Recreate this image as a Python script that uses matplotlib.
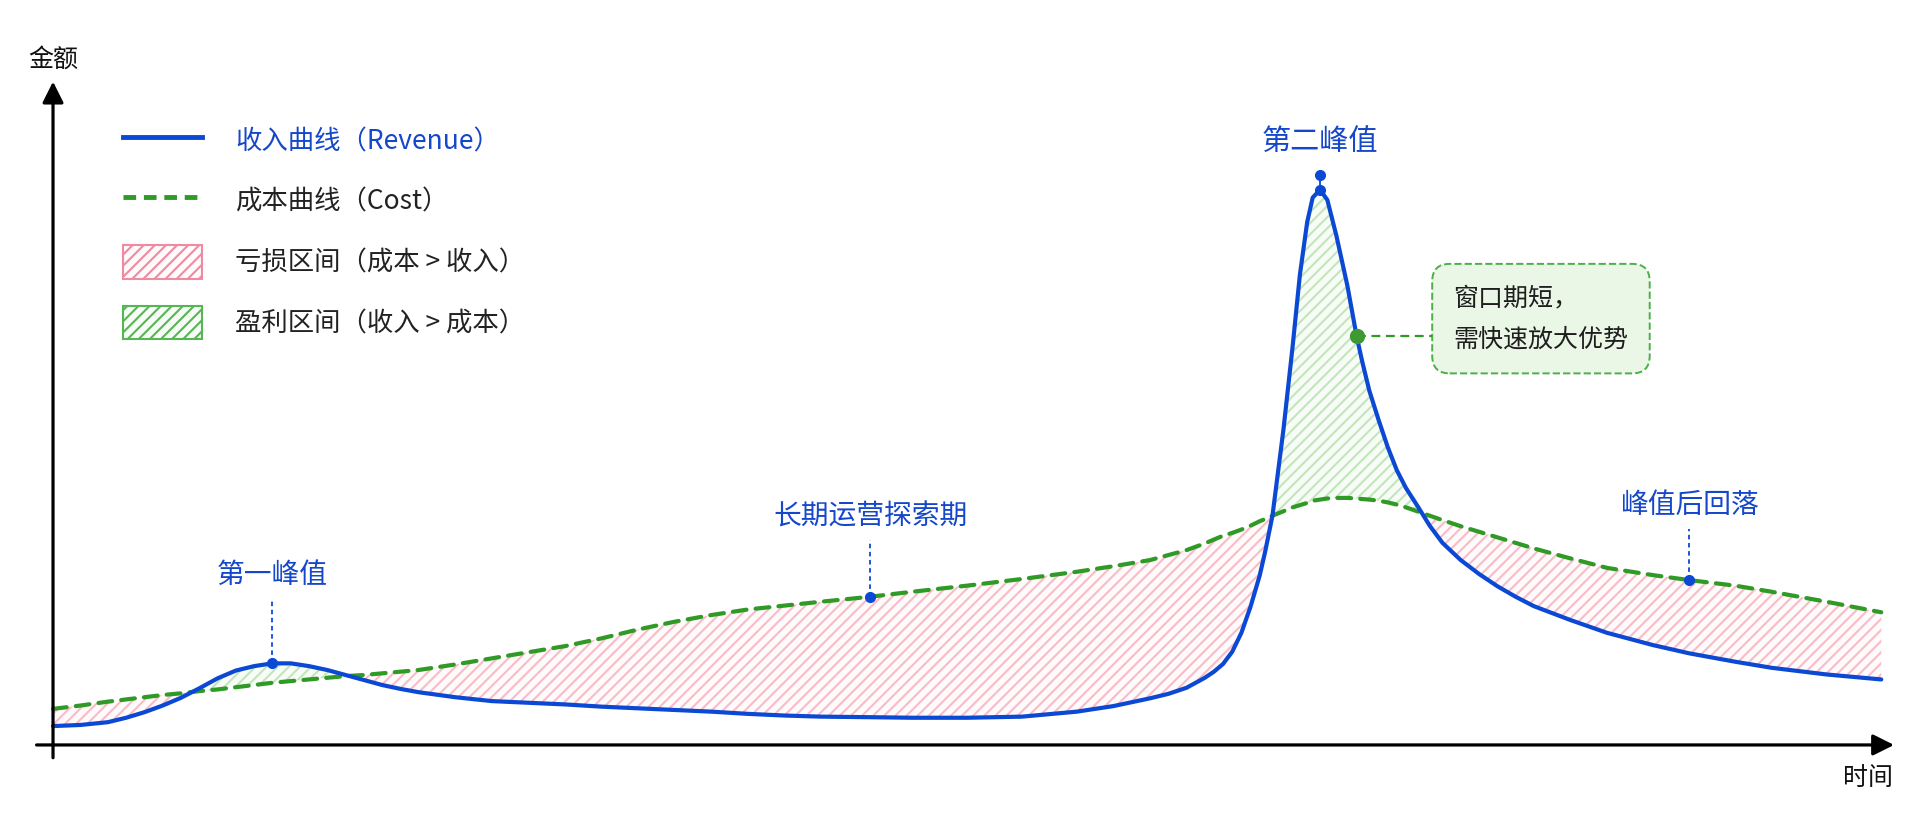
import matplotlib
matplotlib.use("Agg")
import matplotlib.pyplot as plt
from matplotlib.lines import Line2D
from matplotlib.patches import Patch
import numpy as np

plt.rcParams['font.family'] = ['Noto Sans CJK SC', 'DejaVu Sans']
plt.rcParams['hatch.linewidth'] = 1.5

# values (time 0-100, amount scaled so the second peak = 100)
time = [0, 1.5, 3, 4, 5, 6, 7, 8, 9, 10, 11, 12, 13, 14, 15, 16, 17, 18, 19, 20,
        22, 24, 26, 28, 30, 32, 34, 36, 38, 40, 42, 44.7, 47, 50, 53, 56, 58, 60,
        61, 62, 63, 63.5, 64, 64.5, 65, 65.5, 66, 66.3, 66.7, 67.3, 67.8, 68.2, 68.6,
        68.9, 69.3, 69.7, 70.2, 70.8, 71.3, 71.6, 72, 72.5, 73, 73.5, 74, 74.7, 75.3,
        76, 77, 78, 79, 80, 81, 83, 85, 87.5, 89.5, 92, 94, 97, 100]
revenue = [3.4, 3.6, 4.1, 4.9, 5.9, 7.1, 8.5, 10.2, 12.0, 13.4, 14.2, 14.7, 14.7, 14.2,
           13.5, 12.6, 11.7, 10.8, 10.1, 9.5,
           8.6, 7.9, 7.6, 7.3, 6.9, 6.6, 6.3, 6.0, 5.6, 5.3, 5.1, 5.0, 4.9, 4.9, 5.1,
           6.0, 7.0, 8.4,
           9.2, 10.3, 12.1, 13.2, 14.6, 16.8, 20.2, 24.9, 30.5, 34.8, 41.3, 56.8, 71.7,
           84.7, 94.2,
           98.6, 100, 98.2, 91.7, 82.7, 73.7, 69.2, 63.8, 58.6, 53.7, 49.5, 46.3, 42.7,
           39.5,
           36.4, 33.3, 30.8, 28.6, 26.7, 25.0, 22.5, 20.2, 18.0, 16.5, 15.0, 13.9, 12.7,
           11.8]
cost = [6.5, 7.1, 7.8, 8.2, 8.6, 9.0, 9.3, 9.7, 10.0, 10.4, 10.8, 11.2, 11.5, 11.8,
        12.1, 12.4, 12.6, 12.9, 13.2, 13.5,
        14.5, 15.6, 16.7, 17.8, 19.2, 20.8, 22.2, 23.4, 24.4, 25.1, 25.8, 26.7, 27.6,
        28.7, 29.9, 31.2, 32.2, 33.3,
        34.2, 35.1, 36.3, 37.0, 37.7, 38.2, 38.8, 39.5, 40.3, 40.7, 41.3, 42.1, 42.8,
        43.2, 43.6,
        44.0, 44.2, 44.4, 44.5, 44.5, 44.4, 44.3, 44.2, 44.0, 43.7, 43.3, 42.8, 42.0,
        41.3,
        40.5, 39.4, 38.4, 37.4, 36.4, 35.4, 33.6, 31.9, 30.6, 29.7, 28.7, 27.6, 25.8,
        23.9]

legend_labels = ['收入曲线（Revenue）', '成本曲线（Cost）',
                 '亏损区间（成本 > 收入）', '盈利区间（收入 > 成本）']

BLUE = '#0b48d4'
LABEL_BLUE = '#1447c9'
GREEN = '#2f9a26'
PINK_HATCH = '#f8bcc7'
GREEN_HATCH = '#c2e6bb'

t = np.array(time)
rev = np.array(revenue)
cst = np.array(cost)

fig = plt.figure(figsize=(19.16, 8.21), dpi=100)
ax = fig.add_axes([0, 0, 1, 1])
ax.set_xlim(-2.9, 101.9)
ax.set_ylim(-13.7, 134.2)
ax.axis('off')

# shaded regions
ax.fill_between(t, rev, cst, where=cst >= rev, interpolate=True,
                facecolor='#fffafb', edgecolor=PINK_HATCH, hatch='///', linewidth=0, zorder=1)
ax.fill_between(t, rev, cst, where=rev >= cst, interpolate=True,
                facecolor='#f8fcf7', edgecolor=GREEN_HATCH, hatch='///', linewidth=0, zorder=1)

# curves
ax.plot(t, cst, color=GREEN, lw=3, dashes=(3.3, 2.2), zorder=3, dash_capstyle='round')
ax.plot(t, rev, color=BLUE, lw=3, zorder=4, solid_capstyle='round', solid_joinstyle='round')

# axes arrows
ax.annotate('', xy=(100.7, 0), xytext=(-0.9, 0),
            arrowprops=dict(arrowstyle='-|>', lw=2.3, color='black', mutation_scale=32,
                            shrinkA=0, shrinkB=0), zorder=5)
ax.annotate('', xy=(0, 119.5), xytext=(0, -2.3),
            arrowprops=dict(arrowstyle='-|>', lw=2.3, color='black', mutation_scale=32,
                            shrinkA=0, shrinkB=0), zorder=5)
ax.text(0, 123.4, '金额', fontsize=18, ha='center', va='center', color='#111')
ax.text(99.3, -5.9, '时间', fontsize=18, ha='center', va='center', color='#111')

# annotations
def mark(i, series, label, line_top, text_y):
    x, y = t[i], series[i]
    ax.plot([x, x], [y, line_top], color=BLUE, lw=1.3, dashes=(2.5, 2), zorder=5)
    ax.plot(x, y, 'o', color=BLUE, ms=7, zorder=6)
    ax.text(x, text_y, label, fontsize=20, color=LABEL_BLUE, ha='center', va='center')

mark(time.index(12), rev, '第一峰值', 26.1, 30.6)
mark(time.index(44.7), cst, '长期运营探索期', 36.9, 41.1)
mark(time.index(89.5), cst, '峰值后回落', 38.9, 43.2)

# second peak
ip = time.index(69.3)
ax.plot([t[ip], t[ip]], [rev[ip], 102.7], color=BLUE, lw=1.3, zorder=5)
ax.plot(t[ip], rev[ip], 'o', color=BLUE, ms=7, zorder=6)
ax.plot(t[ip], 102.7, 'o', color=BLUE, ms=7, zorder=6)
ax.text(t[ip], 108.6, '第二峰值', fontsize=21, color=LABEL_BLUE, ha='center', va='center')

# callout
ic = time.index(71.3)
ax.plot([t[ic], 75.4], [rev[ic], rev[ic]], color=GREEN, lw=1.6, dashes=(4, 2.5), zorder=5)
ax.plot(t[ic], rev[ic], 'o', color='#3c9a30', ms=10, zorder=6)
ax.text(76.6, 76.8, '窗口期短，\n需快速放大优势', fontsize=18, color='#1e1e1e',
        ha='left', va='center', linespacing=1.75,
        bbox=dict(boxstyle='round,pad=0.85,rounding_size=0.7', facecolor='#eaf6e6',
                  edgecolor='#4caf48', linestyle='--', linewidth=1.4))

# legend
handles = [
    Line2D([], [], color=BLUE, lw=3.5),
    Line2D([], [], color=GREEN, lw=3.5, dashes=(2.6, 1.6)),
    Patch(facecolor='#fffafb', edgecolor='#ef8aa0', hatch='///', linewidth=1.5),
    Patch(facecolor='#f8fcf7', edgecolor='#55b653', hatch='///', linewidth=1.5),
]
leg = ax.legend(handles, legend_labels, loc='upper left', bbox_to_anchor=(0.0642, 0.849),
                frameon=False, fontsize=19, handlelength=3.0, handleheight=1.55,
                handletextpad=1.25, labelspacing=1.05, borderpad=0, borderaxespad=0)
for i, txt in enumerate(leg.get_texts()):
    txt.set_color(LABEL_BLUE if i == 0 else '#222222')

fig.savefig('out.png', dpi=100, facecolor='white')
